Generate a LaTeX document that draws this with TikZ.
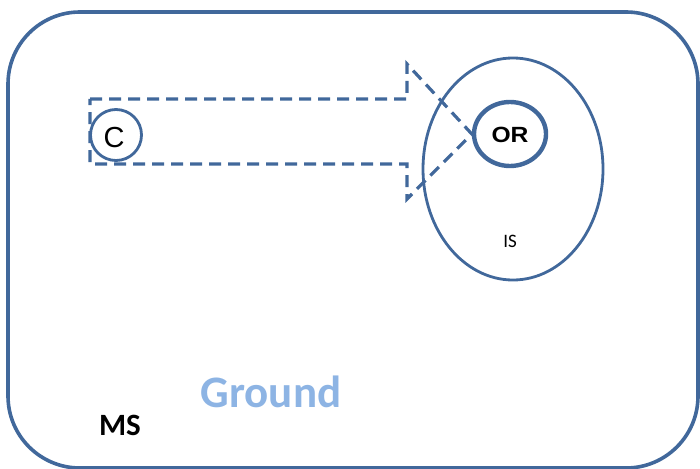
\documentclass[tikz,border=0pt]{standalone}
\usepackage{fontspec}
\setmainfont{Carlito}
\newfontfamily\arialf{Liberation Sans}
\usetikzlibrary{shapes.geometric}
\definecolor{steel}{RGB}{65,104,155}
\definecolor{groundblue}{RGB}{141,180,228}
\tikzset{
  outline/.style={draw=steel, line width=3.6pt},
  thinline/.style={draw=steel, line width=2.8pt},
  dashline/.style={draw=steel, line width=3.2pt, dash pattern=on 12pt off 7pt},
  lbl/.style={inner sep=0pt, anchor=base, text=black},
}
\begin{document}
\begin{tikzpicture}[x=1pt,y=-1pt]
\useasboundingbox (0,0) rectangle (700,468);
% outer rounded frame
\draw[outline, rounded corners=72pt] (8,12) rectangle (698,468);
% IS ellipse
\node[ellipse, thinline, minimum width=180pt, minimum height=222pt, inner sep=0pt] (is) at (513,169) {};
\node[lbl] (islbl) at (510,247) {\fontsize{19}{21}\selectfont IS};
% OR circle
\node[ellipse, draw=steel, line width=4.4pt, minimum width=72pt, minimum height=64pt, inner sep=0pt] (or) at (510,134) {};
\node[lbl] (orlbl) at (510,142) {\arialf\bfseries\fontsize{22}{24}\selectfont\scalebox{1.12}[1]{OR}};
% dashed arrow
\coordinate (tip) at (or.west);
\draw[dashline, line join=miter] (90,99) -- (407,99) -- (407,64) -- (tip) -- (407,199) -- (407,164) -- (90,164) -- cycle;
% C circle
\node[circle, thinline, fill=white, minimum size=51pt, inner sep=0pt] (c) at (116,135) {};
\node[lbl] (clbl) at (114,147) {\arialf\fontsize{29}{31}\selectfont C};
% labels
\node[lbl, text=groundblue] (ground) at (271,407) {\bfseries\fontsize{45}{48}\selectfont Ground};
\node[lbl] (ms) at (120,435) {\bfseries\fontsize{31}{33}\selectfont MS};
\end{tikzpicture}
\end{document}
